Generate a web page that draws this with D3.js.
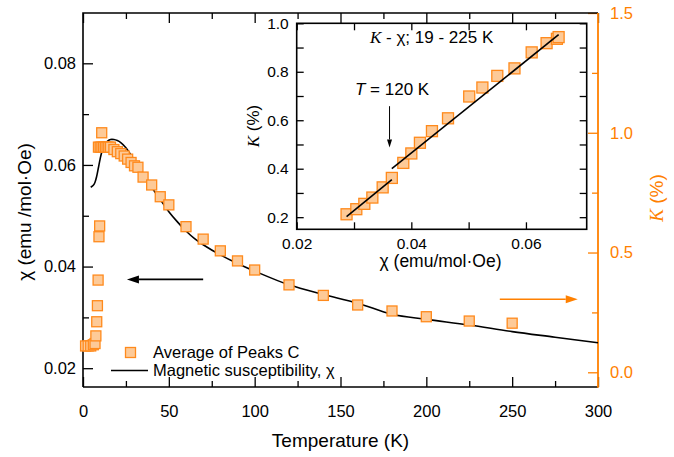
<!DOCTYPE html>
<html>
<head>
<meta charset="utf-8">
<script src="https://cdn.jsdelivr.net/npm/d3@7/dist/d3.min.js"></script>
<style>
  body { margin: 0; background: #fff; }
  svg { font-family: "Liberation Sans", Arial, sans-serif; }
</style>
</head>
<body>
<svg id="chart" width="674" height="457"></svg>
<script>
// --- data ---
// average of peaks C: temperature (K) and Knight shift K (%)
const peakT = [1.5, 3, 4.5, 6, 7, 7.5, 8, 8.4, 8.8, 9, 9.3, 9.7, 10, 10.9, 11, 12, 13, 14, 15, 16,
               18, 20, 22, 24, 26, 28, 30, 32, 35, 40, 45, 50, 60, 70, 80, 90, 100, 120, 140, 160,
               180, 200, 225, 250];
const peakK = [0.11, 0.11, 0.11, 0.115, 0.12, 0.152, 0.211, 0.278, 0.385, 0.94, 0.566, 0.611, 0.94, 1.0, 0.94, 0.94, 0.94, 0.94, 0.94, 0.94,
               0.93, 0.921, 0.913, 0.903, 0.89, 0.876, 0.862, 0.856, 0.815, 0.782, 0.733, 0.699, 0.608, 0.556, 0.507, 0.465, 0.427, 0.365, 0.321, 0.281,
               0.256, 0.232, 0.214, 0.205];

// magnetic susceptibility curve
const chiT   = [4.5, 6, 7, 8, 9, 10, 11, 12.5, 14, 16, 18, 20, 22, 25, 28, 31, 35, 40, 45, 50,
                55, 60, 65, 70, 80, 90, 100, 120, 140, 160, 180, 200, 225, 250, 275, 300];
const chiVal = [0.0556, 0.0560, 0.0566, 0.0578, 0.0595, 0.0612, 0.0626, 0.0639, 0.0646, 0.0650,
                0.0650, 0.0648, 0.0644, 0.0634, 0.0619, 0.0604, 0.0582, 0.0556, 0.0532, 0.0508,
                0.0488, 0.0470, 0.0455, 0.0443, 0.0423, 0.0406, 0.0391, 0.0364, 0.0345, 0.0328,
                0.0306, 0.0296, 0.0285, 0.0272, 0.0261, 0.0250];

// inset: K vs chi, 19 - 225 K
const insetChi = [0.0287, 0.0304, 0.0318, 0.0332, 0.0350, 0.0366, 0.0386, 0.0400, 0.0415, 0.0436,
                  0.0464, 0.0501, 0.0524, 0.0550, 0.0580, 0.0610, 0.0636, 0.0654, 0.0657];
const insetK   = [0.212, 0.233, 0.255, 0.281, 0.323, 0.362, 0.424, 0.463, 0.507, 0.555,
                  0.608, 0.698, 0.735, 0.783, 0.814, 0.880, 0.918, 0.936, 0.943];
const fitLow  = [[0.0287, 0.2025], [0.0366, 0.355]];
const fitHigh = [[0.0366, 0.400], [0.0657, 0.953]];

// ticks
const tempTicks  = [0, 50, 100, 150, 200, 250, 300];
const tempMinor  = [25, 75, 125, 175, 225, 275];
const chiTicks   = [0.02, 0.04, 0.06, 0.08];
const chiMinor   = [0.03, 0.05, 0.07];
const kTicks     = [0.0, 0.5, 1.0, 1.5];
const kMinor     = [0.25, 0.75, 1.25];
const iChiTicks  = [0.02, 0.04, 0.06];
const iChiMinor  = [0.03, 0.05];
const iKTicks    = [0.2, 0.4, 0.6, 0.8, 1.0];
const iKMinor    = [0.3, 0.5, 0.7, 0.9];

const ORANGE = "#ff8000";
const SQ_FILL = "#fdca98";
const SQ_STROKE = "#ff8a1c";

const svg = d3.select("#chart");

// main plot area
const L = 83, R = 598, T = 13, B = 387;
const x  = d3.scaleLinear().domain([0, 300]).range([L, R]);
const yL = d3.scaleLinear().domain([0.0163, 0.0899]).range([B, T]);
const yR = d3.scaleLinear().domain([-0.0614, 1.5]).range([B, T]);

function styleAxis(g, color, fontSize) {
  g.select(".domain").remove();
  g.selectAll("line").attr("stroke", color).attr("stroke-width", 1.3);
  g.selectAll("text").attr("fill", color).style("font-size", fontSize + "px")
    .style("font-family", '"Liberation Sans", Arial, sans-serif');
}

// bottom axis
const gx = svg.append("g").attr("transform", `translate(0,${B})`)
  .call(d3.axisBottom(x).tickValues(tempTicks).tickSize(-10).tickSizeOuter(0).tickPadding(18).tickFormat(d3.format("d")));
styleAxis(gx, "#000", 16.5);
const gxm = svg.append("g").attr("transform", `translate(0,${B})`)
  .call(d3.axisBottom(x).tickValues(tempMinor).tickSize(-6).tickSizeOuter(0).tickFormat(""));
styleAxis(gxm, "#000", 16);
// top mirrored ticks
const gt = svg.append("g").attr("transform", `translate(0,${T})`)
  .call(d3.axisTop(x).tickValues(tempTicks).tickSize(-10).tickSizeOuter(0).tickFormat(""));
styleAxis(gt, "#000", 16);
const gtm = svg.append("g").attr("transform", `translate(0,${T})`)
  .call(d3.axisTop(x).tickValues(tempMinor).tickSize(-6).tickSizeOuter(0).tickFormat(""));
styleAxis(gtm, "#000", 16);

// left axis (chi)
const gl = svg.append("g").attr("transform", `translate(${L},0)`)
  .call(d3.axisLeft(yL).tickValues(chiTicks).tickSize(-10).tickSizeOuter(0).tickPadding(7).tickFormat(d3.format(".2f")));
styleAxis(gl, "#000", 16.5);
const glm = svg.append("g").attr("transform", `translate(${L},0)`)
  .call(d3.axisLeft(yL).tickValues(chiMinor).tickSize(-6).tickSizeOuter(0).tickFormat(""));
styleAxis(glm, "#000", 16);

// right axis (K)
const gr = svg.append("g").attr("transform", `translate(${R},0)`)
  .call(d3.axisRight(yR).tickValues(kTicks).tickSize(-10).tickSizeOuter(0).tickPadding(12).tickFormat(d3.format(".1f")));
styleAxis(gr, ORANGE, 16.5);
const grm = svg.append("g").attr("transform", `translate(${R},0)`)
  .call(d3.axisRight(yR).tickValues(kMinor).tickSize(-6).tickSizeOuter(0).tickFormat(""));
styleAxis(grm, ORANGE, 16);

// frame
svg.append("path").attr("d", `M${L},${B}V${T}H${R}`).attr("fill", "none").attr("stroke", "#000").attr("stroke-width", 1.6);
svg.append("line").attr("x1", L).attr("x2", R).attr("y1", B).attr("y2", B).attr("stroke", "#000").attr("stroke-width", 1.6);
svg.append("line").attr("x1", R).attr("x2", R).attr("y1", T).attr("y2", B + 0.8).attr("stroke", ORANGE).attr("stroke-width", 1.8);

// axis titles
svg.append("text").attr("x", (L + R) / 2).attr("y", 447).attr("text-anchor", "middle")
  .style("font-size", "19px").text("Temperature (K)");
svg.append("text").attr("transform", "translate(31,212) rotate(-90)").attr("text-anchor", "middle")
  .style("font-size", "19px").text("χ (emu /mol·Oe)");
const rt = svg.append("text").attr("transform", "translate(663,198) rotate(-90)").attr("text-anchor", "middle")
  .attr("fill", ORANGE).style("font-size", "19px");
rt.append("tspan").style("font-style", "italic").style("font-family", '"Liberation Serif", serif').text("K");
rt.append("tspan").text(" (%)");

// susceptibility curve
const chiData = chiT.map((t, i) => [t, chiVal[i]]);
svg.append("path").datum(chiData)
  .attr("fill", "none").attr("stroke", "#000").attr("stroke-width", 1.6)
  .attr("d", d3.line().x(d => x(d[0])).y(d => yL(d[1])).curve(d3.curveCatmullRom.alpha(0.5)));

// squares
const SQ = 10;
const peakData = peakT.map((t, i) => [t, peakK[i]]);
svg.append("g").selectAll("rect").data(peakData).join("rect")
  .attr("x", d => x(d[0]) - SQ / 2).attr("y", d => yR(d[1]) - SQ / 2)
  .attr("width", SQ).attr("height", SQ)
  .attr("fill", SQ_FILL).attr("stroke", SQ_STROKE).attr("stroke-width", 1.3);

// direction arrows
function arrow(g, x1, y1, x2, y2, color, w, head, hw) {
  const a = Math.atan2(y2 - y1, x2 - x1);
  const bx = x2 - head * Math.cos(a), by = y2 - head * Math.sin(a);
  g.append("line").attr("x1", x1).attr("y1", y1).attr("x2", bx).attr("y2", by)
    .attr("stroke", color).attr("stroke-width", w);
  const px = -Math.sin(a) * hw / 2, py = Math.cos(a) * hw / 2;
  g.append("path").attr("d", `M${x2},${y2}L${bx + px},${by + py}L${bx - px},${by - py}Z`).attr("fill", color);
}
arrow(svg, x(70), yL(0.03747), x(25.6), yL(0.03747), "#000", 1.6, 12, 8);
arrow(svg, x(242.8), yR(0.305), x(288.2), yR(0.305), ORANGE, 1.6, 12, 8);

// legend
svg.append("rect").attr("x", 125.5).attr("y", 347.5).attr("width", SQ).attr("height", SQ)
  .attr("fill", SQ_FILL).attr("stroke", SQ_STROKE).attr("stroke-width", 1.3);
svg.append("text").attr("x", 153).attr("y", 358).style("font-size", "16.5px").text("Average of Peaks C");
svg.append("line").attr("x1", 111).attr("x2", 148).attr("y1", 370.5).attr("y2", 370.5).attr("stroke", "#000").attr("stroke-width", 1.6);
svg.append("text").attr("x", 153).attr("y", 376).style("font-size", "16.5px").text("Magnetic susceptibility, χ");

// --- inset ---
const iL = 296.7, iR = 586.7, iT = 23.3, iB = 229.3;
const ix = d3.scaleLinear().domain([0.02, 0.0706]).range([iL, iR]);
const iy = d3.scaleLinear().domain([0.15, 1.0]).range([iB, iT]);
const inset = svg.append("g");
inset.append("rect").attr("x", iL).attr("y", iT).attr("width", iR - iL).attr("height", iB - iT)
  .attr("fill", "#fff");

const ib = inset.append("g").attr("transform", `translate(0,${iB})`)
  .call(d3.axisBottom(ix).tickValues(iChiTicks).tickSize(-7).tickSizeOuter(0).tickPadding(9).tickFormat(d3.format(".2f")));
styleAxis(ib, "#000", 15.5);
const ibm = inset.append("g").attr("transform", `translate(0,${iB})`)
  .call(d3.axisBottom(ix).tickValues(iChiMinor).tickSize(-7).tickSizeOuter(0).tickFormat(""));
styleAxis(ibm, "#000", 15);
const itp = inset.append("g").attr("transform", `translate(0,${iT})`)
  .call(d3.axisTop(ix).tickValues(iChiTicks.concat(iChiMinor)).tickSize(-7).tickSizeOuter(0).tickFormat(""));
styleAxis(itp, "#000", 15);
const il = inset.append("g").attr("transform", `translate(${iL},0)`)
  .call(d3.axisLeft(iy).tickValues(iKTicks).tickSize(-7).tickSizeOuter(0).tickPadding(8).tickFormat(d3.format(".1f")));
styleAxis(il, "#000", 15.5);
const ilm = inset.append("g").attr("transform", `translate(${iL},0)`)
  .call(d3.axisLeft(iy).tickValues(iKMinor).tickSize(-7).tickSizeOuter(0).tickFormat(""));
styleAxis(ilm, "#000", 15);
const irt = inset.append("g").attr("transform", `translate(${iR},0)`)
  .call(d3.axisRight(iy).tickValues(iKTicks.concat(iKMinor)).tickSize(-7).tickSizeOuter(0).tickFormat(""));
styleAxis(irt, "#000", 15);

inset.append("rect").attr("x", iL).attr("y", iT).attr("width", iR - iL).attr("height", iB - iT)
  .attr("fill", "none").attr("stroke", "#000").attr("stroke-width", 1.6);

inset.append("text").attr("x", 440.5).attr("y", 267).attr("text-anchor", "middle")
  .style("font-size", "17.5px").text("χ (emu/mol·Oe)");
const iyl = inset.append("text").attr("transform", "translate(259,126) rotate(-90)").attr("text-anchor", "middle")
  .style("font-size", "17px");
iyl.append("tspan").style("font-style", "italic").style("font-family", '"Liberation Serif", serif').text("K");
iyl.append("tspan").text(" (%)");

const ititle = inset.append("text").attr("x", 370).attr("y", 43).style("font-size", "17px");
ititle.append("tspan").style("font-style", "italic").style("font-family", '"Liberation Serif", serif').text("K");
ititle.append("tspan").text(" - χ; 19 - 225 K");

const tlab = inset.append("text").attr("x", 355).attr("y", 95).style("font-size", "17px");
tlab.append("tspan").style("font-style", "italic").text("T");
tlab.append("tspan").text(" = 120 K");
arrow(inset, ix(0.0362), iy(0.658), ix(0.0362), iy(0.4876), "#000", 1, 8, 5);

const insetData = insetChi.map((c, i) => [c, insetK[i]]);
inset.append("g").selectAll("rect").data(insetData).join("rect")
  .attr("x", d => ix(d[0]) - 5.5).attr("y", d => iy(d[1]) - 5.5)
  .attr("width", 11).attr("height", 11)
  .attr("fill", SQ_FILL).attr("stroke", SQ_STROKE).attr("stroke-width", 1.3);

const fitLine = d3.line().x(d => ix(d[0])).y(d => iy(d[1]));
[fitLow, fitHigh].forEach(seg => {
  inset.append("path").datum(seg).attr("d", fitLine)
    .attr("fill", "none").attr("stroke", "#000").attr("stroke-width", 1.6);
});
</script>
</body>
</html>
